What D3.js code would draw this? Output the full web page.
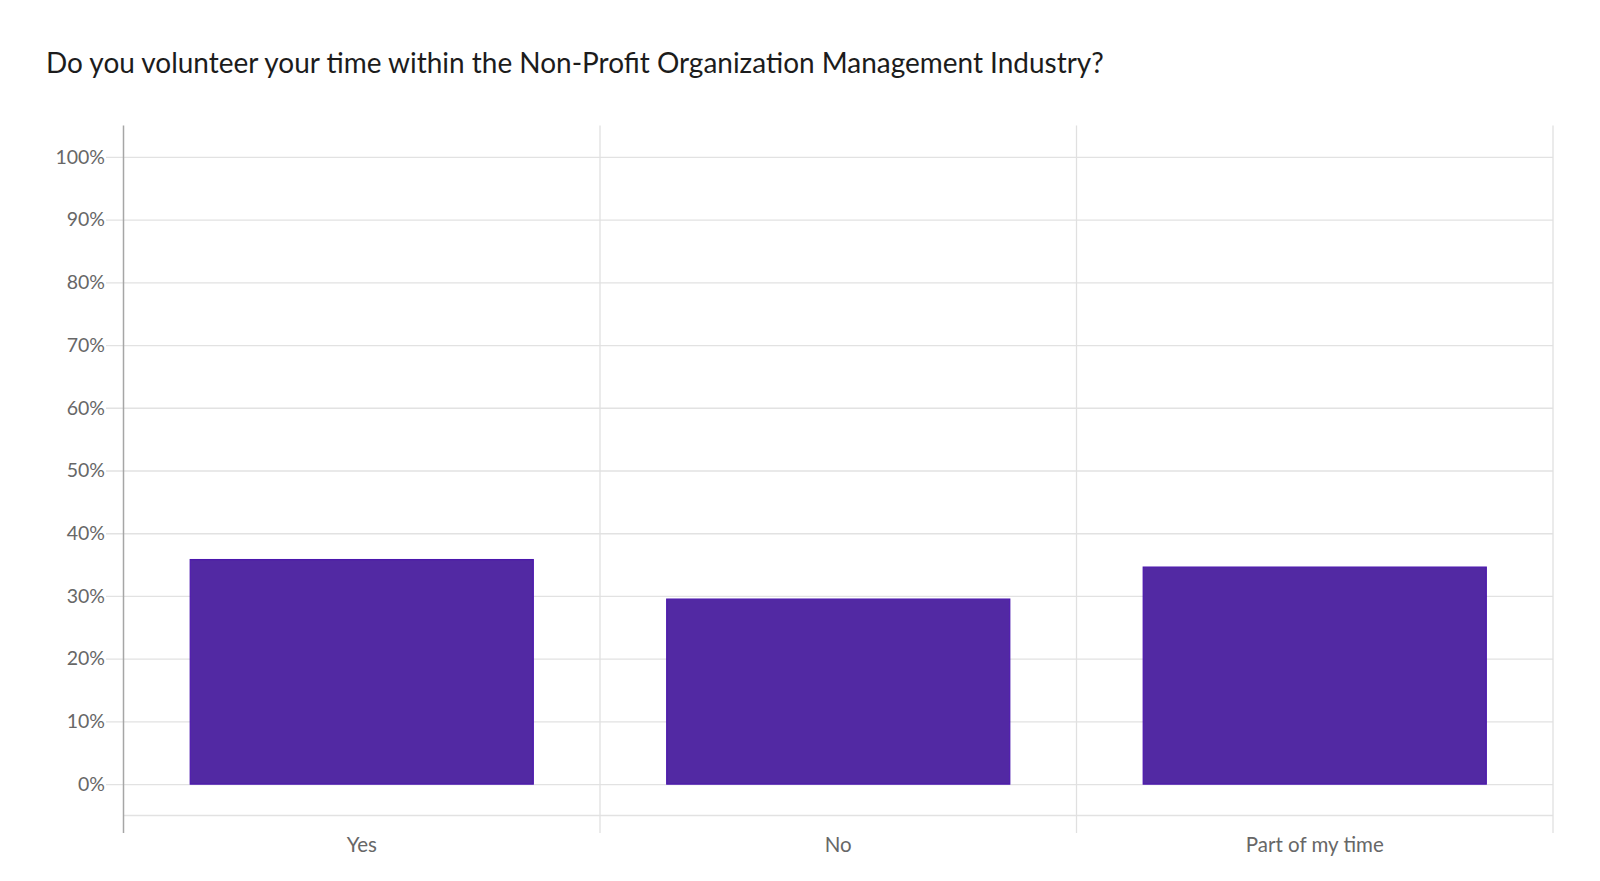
<!DOCTYPE html>
<html><head><meta charset="utf-8">
<script src="https://cdn.jsdelivr.net/npm/d3@7"></script>
<style>html,body{margin:0;padding:0;background:#fff;}svg{display:block;}</style>
</head><body>
<svg id="c" width="1600" height="881"></svg>
<script>
const title = "Do you volunteer your time within the Non-Profit Organization Management Industry?";
const categories = ["Yes", "No", "Part of my time"];
const values = [35.8, 29.5, 34.6];
const yTicks = [0, 10, 20, 30, 40, 50, 60, 70, 80, 90, 100];

(function () {
const svg = d3.select("#c");
const FONT = "Lato, 'Open Sans', sans-serif";
const pL = 123.5, pR = 1553, pT = 125.5, pB = 815.5;

const x = d3.scaleBand().domain(categories).range([pL, pR]).paddingInner(0).paddingOuter(0);
const xb = d3.scaleBand().domain(categories).range([pL, pR]).paddingInner(0.28).paddingOuter(0.14);
const y = d3.scaleLinear().domain([-5, 105]).range([pB, pT]);

// title
const t = svg.append("text").attr("x", 46).attr("y", 73).attr("fill", "#1c1c1c")
  .style("font-family", FONT).style("font-size", "27px").text(title);
const w = t.node().getComputedTextLength();
t.style("font-size", (27 * 1058 / w).toFixed(2) + "px");

// horizontal gridlines + tick labels via axis
const yAxis = d3.axisLeft(y).tickValues(yTicks).tickFormat(d => d + "%").tickSize(0).tickPadding(2);
const ga = svg.append("g").attr("transform", `translate(106,0)`).call(yAxis);
ga.select(".domain").remove();
ga.selectAll(".tick line").attr("stroke", "#e2e2e2").attr("stroke-width", 1.3).attr("x1", 0).attr("x2", pR - 106);
ga.selectAll(".tick text").attr("fill", "#676767").style("font-family", FONT).style("font-size", "19.5px").attr("x", -1);

// bottom line at -5
svg.append("line").attr("x1", pL).attr("x2", pR).attr("y1", y(-5)).attr("y2", y(-5))
  .attr("stroke", "#e2e2e2").attr("stroke-width", 1.5);

// vertical category separators
svg.selectAll("line.vsep").data(categories).join("line").attr("class", "vsep")
  .attr("x1", d => x(d) + x.bandwidth()).attr("x2", d => x(d) + x.bandwidth())
  .attr("y1", pT).attr("y2", 833).attr("stroke", "#e0e0e0").attr("stroke-width", 1.3);

// left axis line
svg.append("line").attr("x1", pL).attr("x2", pL).attr("y1", pT).attr("y2", 833)
  .attr("stroke", "#a6a6a6").attr("stroke-width", 1.5);

// bars
svg.selectAll("rect.bar").data(categories).join("rect").attr("class", "bar")
  .attr("x", d => xb(d)).attr("width", xb.bandwidth())
  .attr("y", (d, i) => y(values[i])).attr("height", (d, i) => y(0) - y(values[i]))
  .attr("fill", "#5229a3").attr("stroke", "#4a16ad").attr("stroke-width", 1.2);

// x labels
const xAxis = d3.axisBottom(x).tickSize(0).tickPadding(0);
const gx = svg.append("g").attr("transform", `translate(0,852)`).call(xAxis);
gx.select(".domain").remove();
gx.selectAll(".tick text").attr("fill", "#676767").attr("dy", 0).attr("y", 0)
  .style("font-family", FONT).style("font-size", "20.5px");
})();
</script>
</body></html>
